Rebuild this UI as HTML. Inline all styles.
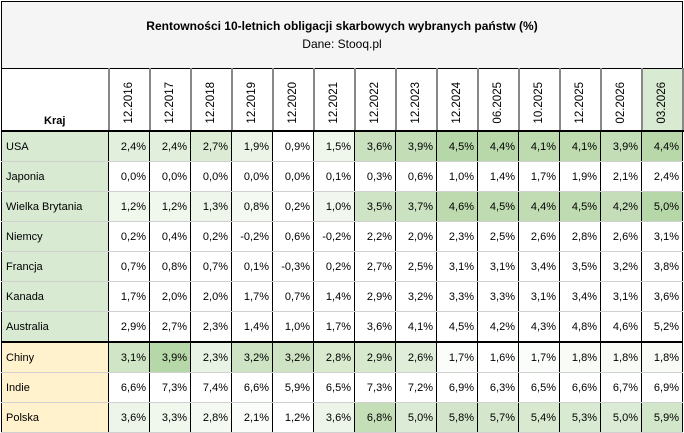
<!DOCTYPE html>
<html><head><meta charset="utf-8"><style>
html,body{margin:0;padding:0;background:#fff;width:684px;height:433px;overflow:hidden}
table{position:absolute;left:1px;top:1px;border-collapse:collapse;table-layout:fixed;font-family:"Liberation Sans",sans-serif;font-size:11px;color:#000}
td{border:1px solid #000;padding:0;overflow:hidden;white-space:nowrap}
.t td{background:#f5f5f5;text-align:center;height:66px;font-size:12px;line-height:18px}
.h td{height:58px;border-left:2px solid #888;border-right:2px solid #888;border-bottom:2px solid #000;vertical-align:bottom}
.h td.k{border-left:1px solid #000;text-align:center;font-weight:bold;padding-bottom:3px}
.rot{writing-mode:vertical-rl;transform:rotate(180deg);margin:0 auto;padding:6px 0 4px;display:block;font-size:11.5px}
.r td{height:29px;text-align:right;padding-right:3px;border-top:1px solid #d0d0d0;border-bottom:1px solid #d0d0d0}
.r td.n{text-align:left;padding-left:4px;background:#d9ead3}
.r td.y{background:#fff2cc}
.sep td{border-top:2px solid #000}
</style></head><body>
<table>
<colgroup><col style="width:107px"><col span="14" style="width:41px"></colgroup>
<tr class="t"><td colspan="15"><b>Rentowności 10-letnich obligacji skarbowych wybranych państw (%)</b><br>Dane: Stooq.pl</td></tr>
<tr class="h"><td class="k">Kraj</td>
<td><span class="rot">12.2016</span></td><td><span class="rot">12.2017</span></td><td><span class="rot">12.2018</span></td><td><span class="rot">12.2019</span></td><td><span class="rot">12.2020</span></td><td><span class="rot">12.2021</span></td><td><span class="rot">12.2022</span></td><td><span class="rot">12.2023</span></td><td><span class="rot">12.2024</span></td><td><span class="rot">06.2025</span></td><td><span class="rot">10.2025</span></td><td><span class="rot">12.2025</span></td><td><span class="rot">02.2026</span></td><td style="background:#d9ead3"><span class="rot">03.2026</span></td></tr>
<tr class="r"><td class="n">USA</td><td style="background:#e3efdd">2,4%</td><td style="background:#e3efdd">2,4%</td><td style="background:#dcebd4">2,7%</td><td style="background:#ebf4e7">1,9%</td><td>0,9%</td><td style="background:#eff6ec">1,5%</td><td style="background:#c9e1bf">3,6%</td><td style="background:#c3ddb7">3,9%</td><td style="background:#b6d7a8">4,5%</td><td style="background:#b8d8aa">4,4%</td><td style="background:#bedaaf">4,1%</td><td style="background:#bedaaf">4,1%</td><td style="background:#c3ddb7">3,9%</td><td style="background:#b8d8aa">4,4%</td></tr>
<tr class="r"><td class="n">Japonia</td><td>0,0%</td><td>0,0%</td><td>0,0%</td><td>0,0%</td><td>0,0%</td><td>0,1%</td><td>0,3%</td><td>0,6%</td><td>1,0%</td><td>1,4%</td><td>1,7%</td><td>1,9%</td><td>2,1%</td><td>2,4%</td></tr>
<tr class="r"><td class="n">Wielka Brytania</td><td style="background:#f0f7ed">1,2%</td><td style="background:#f0f7ed">1,2%</td><td style="background:#eef5ea">1,3%</td><td style="background:#f4f9f2">0,8%</td><td>0,2%</td><td style="background:#f1f7ee">1,0%</td><td style="background:#cfe4c5">3,5%</td><td style="background:#cae2c0">3,7%</td><td style="background:#bddaaf">4,6%</td><td style="background:#bfdbb1">4,5%</td><td style="background:#c1dcb3">4,4%</td><td style="background:#bfdbb1">4,5%</td><td style="background:#c5deb9">4,2%</td><td style="background:#b6d7a8">5,0%</td></tr>
<tr class="r"><td class="n">Niemcy</td><td>0,2%</td><td>0,4%</td><td>0,2%</td><td>-0,2%</td><td>0,6%</td><td>-0,2%</td><td>2,2%</td><td>2,0%</td><td>2,3%</td><td>2,5%</td><td>2,6%</td><td>2,8%</td><td>2,6%</td><td>3,1%</td></tr>
<tr class="r"><td class="n">Francja</td><td>0,7%</td><td>0,8%</td><td>0,7%</td><td>0,1%</td><td>-0,3%</td><td>0,2%</td><td>2,7%</td><td>2,5%</td><td>3,1%</td><td>3,1%</td><td>3,4%</td><td>3,5%</td><td>3,2%</td><td>3,8%</td></tr>
<tr class="r"><td class="n">Kanada</td><td>1,7%</td><td>2,0%</td><td>2,0%</td><td>1,7%</td><td>0,7%</td><td>1,4%</td><td>2,9%</td><td>3,2%</td><td>3,3%</td><td>3,3%</td><td>3,1%</td><td>3,4%</td><td>3,1%</td><td>3,6%</td></tr>
<tr class="r"><td class="n">Australia</td><td>2,9%</td><td>2,7%</td><td>2,3%</td><td>1,4%</td><td>1,0%</td><td>1,7%</td><td>3,6%</td><td>4,1%</td><td>4,5%</td><td>4,2%</td><td>4,3%</td><td>4,8%</td><td>4,6%</td><td>5,2%</td></tr>
<tr class="r sep"><td class="n y">Chiny</td><td style="background:#d0e5c6">3,1%</td><td style="background:#b6d7a8">3,9%</td><td style="background:#e9f3e5">2,3%</td><td style="background:#cde3c3">3,2%</td><td style="background:#cde3c3">3,2%</td><td style="background:#daeacf">2,8%</td><td style="background:#d7e9cd">2,9%</td><td style="background:#e0eed9">2,6%</td><td style="background:#fbfdfa">1,7%</td><td>1,6%</td><td style="background:#fbfdfa">1,7%</td><td style="background:#f8fbf6">1,8%</td><td style="background:#f8fbf6">1,8%</td><td style="background:#f8fbf6">1,8%</td></tr>
<tr class="r"><td class="n y">Indie</td><td>6,6%</td><td>7,3%</td><td>7,4%</td><td>6,6%</td><td>5,9%</td><td>6,5%</td><td>7,3%</td><td>7,2%</td><td>6,9%</td><td>6,3%</td><td>6,5%</td><td>6,6%</td><td>6,7%</td><td>6,9%</td></tr>
<tr class="r"><td class="n y">Polska</td><td style="background:#edf5ea">3,6%</td><td style="background:#f0f7ed">3,3%</td><td style="background:#f4f9f2">2,8%</td><td style="background:#fafcf9">2,1%</td><td>1,2%</td><td style="background:#edf5ea">3,6%</td><td style="background:#c4dfb8">6,8%</td><td style="background:#dcebd5">5,0%</td><td style="background:#d3e6cb">5,8%</td><td style="background:#d4e7cc">5,7%</td><td style="background:#d8e9d0">5,4%</td><td style="background:#d9ead2">5,3%</td><td style="background:#dcebd5">5,0%</td><td style="background:#d2e6ca">5,9%</td></tr>
</table>
</body></html>
